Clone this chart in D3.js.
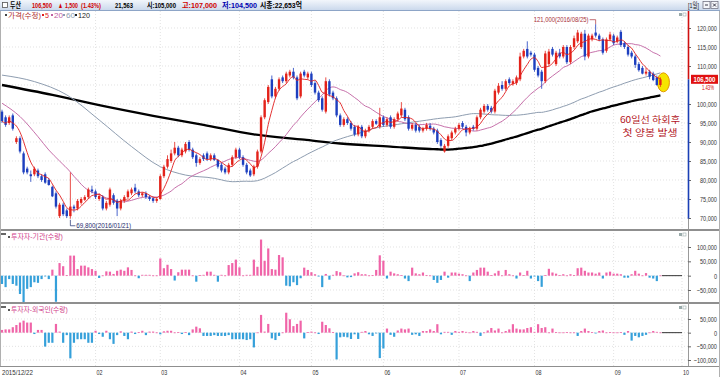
<!DOCTYPE html>
<html><head><meta charset="utf-8">
<script src="https://cdn.jsdelivr.net/npm/d3@7/dist/d3.min.js"></script>
<style>
html,body{margin:0;padding:0;background:#fff;overflow:hidden}
svg{display:block;font-family:"Liberation Sans","Noto Sans CJK KR",Arial,sans-serif}
</style></head><body>
<svg id="chart" width="720" height="377"></svg>
<script>
// ---------------- DATA (prices in thousand KRW, flows in thousand shares) ----------------
const stockName = "두산";
const lastPrice = 106.5, change = 1.5, changePct = 1.43, volume = 21563;
const dayOpen = 105.0, dayHigh = 107.0, dayLow = 104.5, marketCap = 22653;
const periodHigh = {idx:165, value:121.0, date:"2016/08/25"};
const periodLow  = {idx:19,  value:69.8,  date:"2016/01/21"};
const monthIdx    = [0, 26, 44, 66, 86, 106, 127, 148, 170, 189];
const monthLabels = ["2015/12/22","02","03","04","05","06","07","08","09","10"];
const priceTicks = [70,75,80,85,90,95,100,110,115,120];
const priceGrid  = [70,75,80,85,90,95,100,105,110,115,120];
const instTicks  = [-50,0,50,100];
const frgnTicks  = [-100,-50,0,50];
const legendItems = ["가격(수정)","5","20","60","120"];
const panel2Title = "투자자-기관(수량)";
const panel3Title = "투자자-외국인(수량)";
const noteLines = ["60일선 하회후","첫 양봉 발생"];

const open = [
98.0,96.5,95.0,97.0,90.0,91.0,87.0,83.0,81.5,81.5,
82.5,81.0,81.5,80.0,78.2,76.5,70.5,73.5,72.0,70.5,
73.0,72.5,74.0,74.8,75.5,77.5,77.0,75.0,75.5,72.5,
73.5,76.0,74.5,72.5,74.5,75.5,76.5,78.0,77.0,76.0,
76.5,75.5,75.2,74.5,75.0,81.0,83.5,85.0,87.0,88.5,
86.5,87.5,90.0,88.0,86.5,84.5,86.5,87.0,85.5,86.5,
85.3,84.0,83.0,82.0,84.0,86.0,88.0,86.0,84.0,82.5,
81.5,83.5,87.5,96.5,100.5,106.5,102.0,104.0,107.0,106.0,
107.5,108.5,107.0,102.0,108.5,107.0,108.0,105.5,103.0,101.5,
98.0,106.0,103.0,101.5,97.0,94.5,96.0,95.0,94.0,92.0,
94.0,91.5,93.0,94.0,95.5,94.0,96.5,94.5,96.5,94.0,
96.0,97.0,98.5,96.5,93.5,94.5,94.0,93.0,93.5,94.3,
93.5,93.0,90.5,87.5,89.0,91.0,92.5,93.5,95.0,94.0,
92.5,94.0,93.5,96.5,98.0,99.5,99.0,98.0,103.0,105.0,
104.0,106.5,105.3,105.5,106.5,112.5,114.5,113.5,113.0,109.5,
108.5,106.0,110.5,114.5,110.5,113.5,112.5,115.0,111.0,115.0,
116.5,115.0,118.5,112.5,117.0,118.8,118.0,117.0,114.0,117.0,
118.0,116.5,119.0,116.0,115.0,113.5,112.5,110.5,109.5,108.0,
108.5,108.0,107.0,105.0];
const high = [
98.5,97.0,97.0,97.5,91.5,91.5,87.5,83.5,82.5,83.5,
83.0,81.5,82.0,80.5,78.5,77.0,74.0,74.0,72.5,82.0,
73.5,75.0,75.5,76.0,78.0,78.5,77.5,76.5,76.0,74.5,
78.0,76.5,75.0,75.0,76.0,77.5,78.0,79.0,77.5,76.8,
77.0,76.0,75.5,75.5,81.5,84.0,86.5,88.0,90.0,89.0,
88.5,90.0,90.5,88.5,87.0,86.0,87.0,87.5,87.0,87.0,
85.5,84.5,83.5,84.5,86.5,88.5,88.5,86.5,84.5,83.0,
84.0,88.0,97.0,101.5,105.0,107.5,104.5,107.0,107.5,108.5,
109.0,109.5,107.5,108.5,109.0,108.5,108.5,106.0,103.5,102.0,
107.0,106.5,103.5,102.0,97.5,96.5,96.5,95.5,94.5,94.5,
94.5,93.5,94.5,96.0,96.0,99.0,97.0,96.5,97.0,96.5,
98.0,100.5,99.0,97.0,95.0,95.0,94.5,94.0,95.0,95.0,
94.0,93.5,91.0,89.5,92.0,93.0,94.0,95.0,95.5,94.5,
94.0,94.5,97.0,99.0,100.0,100.0,99.5,104.0,105.5,106.0,
106.5,107.0,106.5,107.5,113.5,114.5,116.5,114.0,113.5,110.0,
109.0,114.0,114.5,115.0,114.0,114.5,115.5,115.5,115.5,118.0,
119.5,119.0,119.5,118.5,118.5,121.0,118.5,117.5,117.5,119.0,
118.5,118.0,119.5,116.5,115.5,114.0,113.0,111.0,110.0,109.5,
109.0,108.5,107.5,107.0];
const low = [
95.0,94.0,94.5,93.0,89.5,87.0,81.5,81.5,79.5,81.0,
80.5,79.5,79.0,78.5,75.5,72.5,70.0,70.5,70.0,69.8,
71.5,72.0,73.5,74.5,75.0,76.5,75.0,74.5,72.0,72.0,
73.0,73.5,70.5,72.0,74.0,75.0,76.0,76.5,75.5,75.5,
75.0,74.5,74.0,74.0,74.8,80.5,83.0,84.5,86.5,86.0,
86.0,87.0,87.5,85.5,83.5,84.0,85.0,85.0,85.0,85.0,
83.0,82.0,81.5,81.5,83.5,85.5,85.5,83.5,81.5,80.8,
81.0,83.0,87.0,96.0,100.0,101.5,101.5,103.5,105.5,105.5,
107.0,106.5,101.0,101.5,107.0,106.5,104.5,102.5,100.5,98.0,
97.5,102.0,101.0,96.5,94.0,94.0,94.5,93.0,91.5,91.5,
91.0,91.0,92.5,93.5,94.5,93.5,94.0,94.0,93.5,93.5,
95.5,96.5,95.5,93.0,93.0,92.5,92.5,92.5,93.0,93.0,
92.0,89.5,88.5,87.2,88.5,90.5,92.0,93.0,93.5,91.5,
92.0,93.0,93.0,96.0,97.5,98.0,97.5,97.5,102.5,103.5,
103.5,105.0,104.8,105.0,106.0,112.0,112.0,112.5,108.5,107.0,
104.0,105.5,110.0,112.5,110.0,112.0,112.0,110.5,110.5,114.5,
116.0,114.5,111.5,112.0,116.5,117.5,116.5,113.0,113.5,116.5,
115.5,116.0,115.0,114.5,112.5,112.0,109.5,108.5,107.8,107.5,
106.5,106.0,104.8,104.5];
const close = [
95.5,94.5,96.5,93.5,91.0,87.5,82.0,82.0,81.0,83.0,
81.0,80.0,79.3,78.7,75.7,73.0,73.5,71.0,70.5,73.0,
72.5,74.5,75.0,75.5,77.5,77.0,75.5,75.8,72.5,74.0,
77.5,74.0,72.5,74.5,75.5,77.0,77.5,77.0,76.0,76.5,
75.5,75.0,74.5,75.0,81.0,83.5,85.5,87.0,88.5,86.5,
88.0,89.5,88.0,86.0,84.5,85.5,85.5,85.5,86.5,85.3,
83.5,82.5,82.0,84.0,86.0,88.0,86.0,84.0,82.0,81.2,
83.5,87.5,96.5,101.0,104.5,102.0,104.0,106.5,106.0,108.0,
108.5,107.0,101.5,108.0,107.5,108.0,105.0,103.0,101.0,98.5,
106.0,102.5,101.5,97.0,94.5,96.0,95.0,93.5,92.0,94.0,
91.5,93.0,94.0,95.5,94.8,96.5,94.5,96.0,94.0,96.0,
97.5,98.8,96.0,93.5,94.5,93.0,93.0,93.5,94.5,93.5,
92.5,90.0,89.0,89.0,91.5,92.5,93.5,94.5,94.0,92.5,
93.5,93.5,96.5,98.5,99.5,98.5,98.0,103.5,104.8,104.0,
106.0,105.5,106.0,107.0,112.5,114.0,112.5,113.0,109.0,107.5,
106.0,113.3,113.8,113.0,113.5,112.5,115.0,111.0,115.0,117.3,
118.8,118.5,112.5,118.0,118.0,118.0,117.0,113.5,117.0,118.3,
116.0,117.5,115.5,115.0,113.0,112.5,110.3,108.9,108.0,108.5,
107.2,106.3,105.0,106.5];

// moving-average lead-in values (before the window fills)
const ma20LeadIdx  = [0,5,10,13,16];
const ma20LeadVal  = [100.2,96.7,91.4,87.9,85.0];
const ma60LeadIdx  = [0,9,18,27,36,44,51];
const ma60LeadVal  = [107.6,105.9,102.4,95.8,88.8,83.5,81.3];
const ma120LeadIdx = [0,14,28,42,56,70,84,94,108];
const ma120LeadVal = [105.0,102.4,99.5,96.9,94.5,92.0,90.6,89.6,88.8];

const inst = [
-29,-40,-12,-29,-35,-64,-95,-46,-40,-23,
-25,-12,-2,-12,21,-91,44,33,2,70,
70,23,35,35,29,23,17,-8,1,15,
14,6,17,21,17,29,20,1,-9,3,
3,3,1,1,60,26,38,23,-17,12,
21,21,21,1,-21,2,3,14,14,3,
-21,3,1,37,44,56,29,1,3,3,
56,31,126,52,95,23,21,72,64,-35,
-37,-23,-33,-9,28,20,12,5,-3,-40,
6,-14,3,16,12,1,-6,-5,8,12,
5,5,1,2,20,71,52,-10,14,8,
5,2,-10,-19,28,8,5,11,2,1,
-15,-25,-15,14,-7,11,11,7,5,1,
-19,11,20,28,28,14,2,8,17,1,
20,5,1,-10,11,2,17,-10,-3,-19,
-39,2,24,11,7,2,5,1,5,2,
26,28,17,11,11,7,11,-10,11,14,
7,7,5,-7,-7,5,17,7,1,9,
-7,-10,-19,1];
const frgn = [
10,12,12,20,28,37,44,37,37,-5,
10,10,-51,-37,-37,32,4,-37,-9,-94,
-37,-24,-24,-24,-37,-37,7,-5,-15,7,
-24,-41,-9,5,-12,-24,4,-5,2,7,
-9,4,4,1,-6,5,7,7,1,2,
-5,2,-9,12,22,16,-12,-12,-12,-9,
-12,-12,-12,-9,-24,-24,-24,-24,-27,-24,
-54,1,65,4,32,-21,-27,-12,1,73,
49,24,32,44,-21,2,4,1,-5,40,
28,16,2,-98,-17,-15,-17,-23,-6,-23,
3,6,-6,-12,-3,-93,-58,15,-8,-15,
8,15,12,15,-8,-6,-12,6,6,12,
6,31,-6,3,3,-8,6,3,6,3,
1,6,3,-12,1,8,17,8,15,1,
6,12,31,15,12,12,17,20,3,31,
17,20,1,15,2,1,1,2,1,1,
-12,6,15,6,2,-3,6,8,1,2,
1,1,2,-8,6,-29,-12,-17,-12,-8,
1,6,3,1];

// ---------------- DRAWING ----------------
const svg = d3.select("#chart");
const fmt = d3.format(",");
const won = v => fmt(Math.round(v*1000));
const RED="#e3221a", BLUE="#1d3fbf", PINK="#f064a8", SKY="#35a0da";
const MA5C="#e01c1c", MA20C="#c060a0", MA60C="#8e9db0", MA120C="#000";
const AX = 688;
const P1={t:11,b:229}, P2={t:231,b:302}, P3={t:304,b:366};
const x  = d3.scaleLinear().domain([0,189]).range([2,682]);
const y1 = d3.scaleLinear().domain([70,120]).range([218,28]);
const y2 = d3.scaleLinear().domain([-50,100]).range([290,247]);
const y3 = d3.scaleLinear().domain([-100,50]).range([360,319]);
const n = close.length;

// text placed with a horizontal squeeze to a target width (condensed HTS font look)
function place(node, x0, y0, w, anchor){
  const L = node.getComputedTextLength();
  const s = L>0 ? w/L : 1;
  const left = anchor==="end" ? x0-w : anchor==="middle" ? x0-w/2 : x0;
  d3.select(node).attr("x",0).attr("y",0).attr("text-anchor","start")
    .attr("transform",`translate(${left},${y0}) scale(${s},1)`);
}
function txt(parent, str, x0, y0, w, opt={}){
  const t = parent.append("text").attr("font-size",opt.size||7.5).attr("fill",opt.fill||"#333").text(str);
  if(opt.weight) t.attr("font-weight",opt.weight);
  if(opt.family) t.attr("font-family",opt.family);
  place(t.node(), x0, y0, w, opt.anchor);
  return t;
}

svg.append("rect").attr("width",720).attr("height",377).attr("fill","#fff");
const defs = svg.append("defs");
const lg = defs.append("linearGradient").attr("id","hdr").attr("x1",0).attr("x2",0).attr("y1",0).attr("y2",1);
lg.append("stop").attr("offset",0).attr("stop-color","#f2f6fb");
lg.append("stop").attr("offset",1).attr("stop-color","#cbd9ec");
[["c1",P1],["c2",P2],["c3",P3]].forEach(([id,p])=>{
  defs.append("clipPath").attr("id",id).append("rect").attr("x",0).attr("y",p.t).attr("width",AX).attr("height",p.b-p.t);
});

// header
svg.append("rect").attr("x",0).attr("y",0).attr("width",720).attr("height",10).attr("fill","url(#hdr)");
svg.append("line").attr("x1",0).attr("x2",720).attr("y1",10.5).attr("y2",10.5).attr("stroke","#8da5c7");
svg.append("rect").attr("x",2.5).attr("y",2.5).attr("width",5).attr("height",5).attr("fill","#fff").attr("stroke","#555").attr("stroke-width",0.8);
const hdr = [
  {t:stockName, x:10, w:11, c:"#000"},
  {t:won(lastPrice), x:32, w:20, c:"#d00000"},
  {t:"▲", x:58, w:5, c:"#d00000"},
  {t:won(change), x:65, w:13, c:"#d00000"},
  {t:"("+changePct.toFixed(2)+"%)", x:81, w:20, c:"#d00000"},
  {t:fmt(volume), x:115, w:18, c:"#000"},
  {t:"시:"+won(dayOpen), x:147, w:29, c:"#000"},
  {t:"고:"+won(dayHigh), x:182, w:35, c:"#d00000"},
  {t:"저:"+won(dayLow), x:222, w:35, c:"#0000b0"},
  {t:"시총:"+fmt(marketCap)+"억", x:260, w:42, c:"#000"}
];
const gh = svg.append("g");
hdr.forEach(d=>txt(gh, d.t, d.x, 8, d.w, {size:8, weight:"bold", fill:d.c}));
txt(svg, "[1일]", 688, 8, 11, {size:7.5, fill:"#222"});
[703,711].forEach((bx,k)=>{
  svg.append("rect").attr("x",bx).attr("y",1.5).attr("width",7).attr("height",7).attr("fill","#f4f6fa").attr("stroke","#667").attr("stroke-width",0.7);
  svg.append("path").attr("d", k ? `M${bx+2},${3.5}L${bx+5},${6.5}M${bx+5},${3.5}L${bx+2},${6.5}` : `M${bx+2},${5}H${bx+5}`)
    .attr("stroke","#223").attr("stroke-width",0.9);
});

// grids
const grid = svg.append("g").attr("stroke","#d6d6d6").attr("stroke-width",0.7).attr("stroke-dasharray","1,2");
priceGrid.forEach(v=>grid.append("line").attr("x1",0).attr("x2",AX).attr("y1",y1(v)).attr("y2",y1(v)));
instTicks.forEach(v=>grid.append("line").attr("x1",0).attr("x2",AX).attr("y1",y2(v)).attr("y2",y2(v)));
frgnTicks.forEach(v=>grid.append("line").attr("x1",0).attr("x2",AX).attr("y1",y3(v)).attr("y2",y3(v)));
monthIdx.slice(1).forEach(i=>grid.append("line").attr("x1",x(i)).attr("x2",x(i)).attr("y1",P1.t).attr("y2",P3.b));

// panel frames
const fr = svg.append("g").attr("fill","none");
fr.append("line").attr("x1",0).attr("x2",720).attr("y1",230).attr("y2",230).attr("stroke","#8f8f8f").attr("stroke-width",2);
fr.append("line").attr("x1",0).attr("x2",720).attr("y1",303).attr("y2",303).attr("stroke","#8f8f8f").attr("stroke-width",2);
fr.append("line").attr("x1",0).attr("x2",720).attr("y1",366.5).attr("y2",366.5).attr("stroke","#8f8f8f").attr("stroke-width",1);
fr.append("line").attr("x1",0.5).attr("x2",0.5).attr("y1",11).attr("y2",366).attr("stroke","#b0b0b0");
fr.append("line").attr("x1",AX+0.5).attr("x2",AX+0.5).attr("y1",231).attr("y2",366).attr("stroke","#9a9a9a");
fr.append("line").attr("x1",719.5).attr("x2",719.5).attr("y1",11).attr("y2",377).attr("stroke","#b0b0b0");

// MA lines
const lineGen = d3.line().x(d=>x(d[0])).y(d=>y1(d[1])).curve(d3.curveMonotoneX);
function maSeries(win, li, lv){
  const pts = li.map((i,k)=>[i,lv[k]]);
  for(let i=win-1;i<n;i++) pts.push([i, d3.mean(close.slice(i-win+1,i+1))]);
  return pts;
}
const ma5 = close.map((c,i)=>[i, d3.mean(close.slice(Math.max(0,i-4),i+1))]);
const ma20 = maSeries(20, ma20LeadIdx, ma20LeadVal);
const ma60 = maSeries(60, ma60LeadIdx, ma60LeadVal);
const ma120 = maSeries(120, ma120LeadIdx, ma120LeadVal);
const gm = svg.append("g").attr("clip-path","url(#c1)").attr("fill","none");
gm.append("path").attr("d",lineGen(ma120)).attr("stroke",MA120C).attr("stroke-width",2.3);
gm.append("path").attr("d",lineGen(ma60)).attr("stroke",MA60C).attr("stroke-width",1);
gm.append("path").attr("d",lineGen(ma20)).attr("stroke",MA20C).attr("stroke-width",0.9);

// highlight ellipse behind last candle
svg.append("ellipse").attr("cx",x(n-1)+3).attr("cy",y1(105.7)).attr("rx",6).attr("ry",9.5)
  .attr("fill","#f6e500").attr("stroke","#e39a00").attr("stroke-width",1);

// candles
const bw = 2.4;
const cd = d3.range(n).map(i=>({i,o:open[i],h:Math.max(high[i],open[i],close[i]),l:Math.min(low[i],open[i],close[i]),c:close[i]}));
const gc = svg.append("g").attr("clip-path","url(#c1)");
gc.selectAll("line").data(cd).join("line")
  .attr("x1",d=>x(d.i)).attr("x2",d=>x(d.i)).attr("y1",d=>y1(d.h)).attr("y2",d=>y1(d.l))
  .attr("stroke",d=>d.c>=d.o?RED:BLUE).attr("stroke-width",0.8);
gc.selectAll("rect").data(cd).join("rect")
  .attr("x",d=>x(d.i)-bw/2).attr("width",bw)
  .attr("y",d=>y1(Math.max(d.o,d.c))).attr("height",d=>Math.max(0.8,Math.abs(y1(d.o)-y1(d.c))))
  .attr("fill",d=>d.c>=d.o?RED:BLUE);
svg.append("g").attr("clip-path","url(#c1)").append("path").attr("d",lineGen(ma5))
  .attr("stroke",MA5C).attr("stroke-width",0.9).attr("fill","none");

// flow bars
function bars(data, ys, clip){
  const g = svg.append("g").attr("clip-path",`url(#${clip})`);
  g.selectAll("rect").data(data.map((v,i)=>({v,i}))).join("rect")
    .attr("x",d=>x(d.i)-1.1).attr("width",2.2)
    .attr("y",d=>Math.min(ys(0),ys(d.v))).attr("height",d=>Math.max(0.8,Math.abs(ys(d.v)-ys(0))))
    .attr("fill",d=>d.v>=0?PINK:SKY);
  g.append("line").attr("x1",x(n-1)+1.5).attr("x2",x(189)).attr("y1",ys(0)).attr("y2",ys(0)).attr("stroke","#333").attr("stroke-width",1);
}
bars(inst,y2,"c2");
bars(frgn,y3,"c3");

// right axes
function rAxis(scale,ticks){
  const g = svg.append("g").attr("transform",`translate(${AX},0)`)
    .call(d3.axisRight(scale).tickValues(ticks).tickSize(3).tickFormat(d=>fmt(d*1000)));
  g.attr("font-family","Liberation Sans, Arial, sans-serif").attr("font-size",7.5);
  g.select(".domain").remove();
  g.selectAll(".tick line").attr("stroke","#666");
  g.selectAll(".tick text").attr("fill","#333").attr("dy",null).each(function(){
    const L = this.getComputedTextLength();
    place(this, 29, 2.6, L*0.74, "end");
  });
}
rAxis(y1,priceTicks); rAxis(y2,instTicks); rAxis(y3,frgnTicks);
svg.append("line").attr("x1",AX+0.5).attr("x2",AX+0.5).attr("y1",P1.t).attr("y2",y1(lastPrice)).attr("stroke","#d01010").attr("stroke-width",1.6);
svg.append("line").attr("x1",AX+0.5).attr("x2",AX+0.5).attr("y1",y1(lastPrice)).attr("y2",y1(periodLow.value)).attr("stroke","#1a3fb5").attr("stroke-width",1.6);
svg.append("line").attr("x1",AX+0.5).attr("x2",AX+0.5).attr("y1",y1(periodLow.value)).attr("y2",P1.b).attr("stroke","#9a9a9a");
svg.append("rect").attr("x",691).attr("y",y1(lastPrice)-4.5).attr("width",27).attr("height",9).attr("fill","#e01010");
txt(svg, won(lastPrice), 704.5, y1(lastPrice)+2.7, 22, {size:7.5, weight:"bold", fill:"#fff", anchor:"middle"});
txt(svg, changePct.toFixed(2)+"%", 714, y1(lastPrice)+11, 12, {size:7.5, fill:"#d00000", anchor:"end"});

// panel corner icons
[P1.t,P2.t,P3.t].forEach(t=>{
  svg.append("rect").attr("x",679).attr("y",t+2).attr("width",3).attr("height",3).attr("fill","#9aa");
  svg.append("rect").attr("x",683).attr("y",t+2).attr("width",3).attr("height",3).attr("fill","none").attr("stroke","#9aa").attr("stroke-width",0.6);
});

// legend
const legColors = ["#b03030",MA5C,MA20C,MA60C,"#222"];
const legX = [5,42,51,63,75];
const legW = [33,4,9,9,12];
legendItems.forEach((t,k)=>{
  svg.append("rect").attr("x",legX[k]).attr("y",14).attr("width",2).attr("height",2).attr("fill",k===0?"#444":legColors[k]);
  txt(svg, t, legX[k]+3, 17.5, legW[k], {size:7, fill:legColors[k]});
});

// panel titles
[[panel2Title,P2.t,52],[panel3Title,P3.t,57]].forEach(([t,top,w])=>{
  svg.append("rect").attr("x",1).attr("y",top+2).attr("width",5).attr("height",2).attr("fill","#666");
  svg.append("rect").attr("x",8).attr("y",top+5).attr("width",2).attr("height",2).attr("fill","#555");
  txt(svg, t, 11, top+8, w, {size:7, fill:"#d0408a"});
});

// high / low annotations
const hx = x(periodHigh.idx), hy = y1(periodHigh.value);
txt(svg, won(periodHigh.value)+"("+periodHigh.date+")", hx-7, hy-2, 55, {size:7, fill:"#a83038", anchor:"end"});
svg.append("path").attr("d",`M${hx-6},${hy-4.5}H${hx}V${hy}`).attr("fill","none").attr("stroke","#a83038").attr("stroke-width",0.7);
const lx = x(periodLow.idx), ly = y1(periodLow.value);
svg.append("path").attr("d",`M${lx},${ly+1}V${ly+7}H${lx+5}`).attr("fill","none").attr("stroke","#1d2d6e").attr("stroke-width",0.7);
txt(svg, won(periodLow.value)+"("+periodLow.date+")", lx+6, ly+9.5, 55, {size:7, fill:"#1d2d6e"});

// comment: two lines, spaced so their boxes do not collide
noteLines.forEach((t,k)=>{
  txt(svg, t, 650, 123+k*13, k?55:60, {size:9, family:"Noto Sans CJK KR, sans-serif", fill:"#b3141c", anchor:"middle"});
});

// x labels
monthIdx.forEach((i,k)=>{
  txt(svg, monthLabels[k], x(i)+(k?1:0), 375, k?6:31, {size:7.5, fill:"#333"});
});
</script>
</body></html>
